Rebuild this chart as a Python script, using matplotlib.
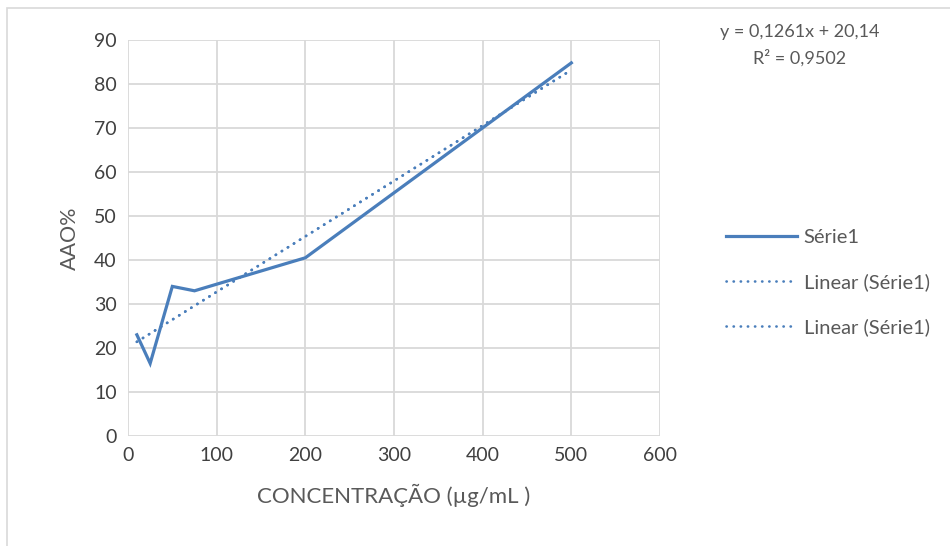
import numpy as np
import matplotlib.pyplot as plt
from matplotlib.patches import Rectangle

# data
conc = [10, 25, 50, 75, 200, 500]
aao = [23, 16.5, 34, 33, 40.5, 84.8]
slope = 0.1261
intercept = 20.14
eq_text = "y = 0,1261x + 20,14"
r2_text = "R² = 0,9502"
x_ticks = [0, 100, 200, 300, 400, 500, 600]
y_ticks = [0, 10, 20, 30, 40, 50, 60, 70, 80, 90]

blue = "#4a7ebb"
grey_txt = "#595959"
tick_txt = "#404040"
grid_col = "#d9d9d9"

plt.rcParams['font.family'] = ['Lato', 'DejaVu Sans']

fig = plt.figure(figsize=(9.5, 5.46), dpi=100)
ax = fig.add_axes([128/950, 110/546, 532/950, 396/546])

ax.plot(conc, aao, color=blue, lw=2.3, label="Série1", solid_joinstyle='miter', zorder=3)
xs = np.array([min(conc), max(conc)])
trend = slope * xs + intercept
for _ in range(2):
    ax.plot(xs, trend, color=blue, lw=1.9, linestyle=(0, (0.1, 2.6)),
            dash_capstyle='round', label="Linear (Série1)", zorder=2)

ax.set_xlim(0, 600)
ax.set_ylim(0, 90)
ax.set_xticks(x_ticks)
ax.set_yticks(y_ticks)
ax.grid(True, color=grid_col, lw=1.3)
ax.set_axisbelow(True)
for s in ax.spines.values():
    s.set_visible(False)
ax.tick_params(length=0, labelsize=14, colors=tick_txt, pad=8)

ax.set_xlabel("CONCENTRAÇÃO (µg/mL )", fontsize=16, color=grey_txt, labelpad=14)
ax.set_ylabel("AAO%", fontsize=15.5, color=grey_txt, labelpad=10)

fig.text(800/950, 1 - 32/546, eq_text, ha='center', va='center', fontsize=13, color=grey_txt)
fig.text(800/950, 1 - 58/546, r2_text, ha='center', va='center', fontsize=13, color=grey_txt)

leg = ax.legend(loc='upper left', bbox_to_anchor=(708/950, 1 - 211/546),
                bbox_transform=fig.transFigure, frameon=False, fontsize=14.5,
                handlelength=3.5, handletextpad=0.35, labelspacing=1.35)
for t in leg.get_texts():
    t.set_color(grey_txt)

fig.patches.append(Rectangle((7/950, -0.05), 1.1, 1 - 8/546 + 0.05, transform=fig.transFigure,
                             fill=False, edgecolor=grid_col, lw=1.2))

fig.savefig("out.png", dpi=100)
